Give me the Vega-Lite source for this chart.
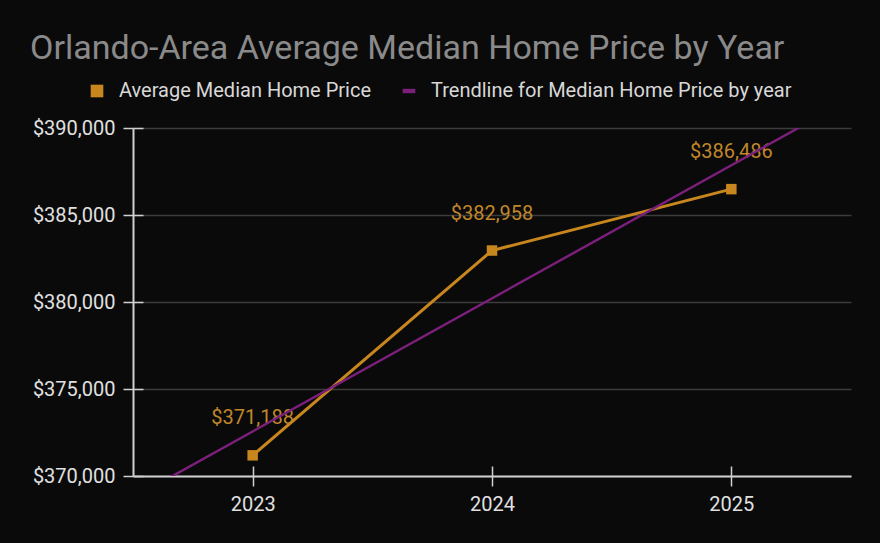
{
  "$schema": "https://vega.github.io/schema/vega-lite/v6.json",
  "width": 718,
  "height": 348,
  "autosize": {"type": "none"},
  "padding": {"left": 133, "top": 128, "right": 29, "bottom": 67},
  "background": "#0a0a0a",
  "title": {
    "text": "Orlando-Area Average Median Home Price by Year",
    "anchor": "start",
    "frame": "group",
    "dx": -103,
    "dy": 25,
    "fontSize": 34,
    "font": "Roboto",
    "fontWeight": "normal",
    "color": "#8a8a8a",
    "offset": 40
  },
  "config": {
    "view": {"stroke": null},
    "font": "Roboto"
  },
  "data": {
    "values": [
      {"year": 2023, "price": 371188, "series": "Average Median Home Price"},
      {"year": 2024, "price": 382958, "series": "Average Median Home Price"},
      {"year": 2025, "price": 386486, "series": "Average Median Home Price"}
    ]
  },
  "resolve": {"axis": {"x": "independent", "y": "independent"}},
  "layer": [
    {
      "mark": {"type": "line", "strokeWidth": 3},
      "encoding": {
        "x": {
          "field": "year", "type": "quantitative",
          "scale": {"domain": [2022.5, 2025.5], "nice": false, "zero": false},
          "axis": {
            "orient": "bottom",
            "title": null, "values": [2023, 2024, 2025], "format": "d",
            "grid": false, "domainColor": "#d0d0d0", "domainWidth": 2,
            "tickColor": "#d0d0d0", "tickWidth": 1.5, "tickSize": 10,
            "labelColor": "#e0e0e0", "labelFontSize": 20, "labelPadding": 8
          }
        },
        "y": {
          "field": "price", "type": "quantitative",
          "scale": {"domain": [370000, 390000], "nice": false, "zero": false},
          "axis": {
            "orient": "left",
            "title": null, "values": [370000, 375000, 380000, 385000, 390000],
            "format": "$,.0f", "grid": true, "gridColor": "#3c3c3c", "gridWidth": 1.5,
            "domainColor": "#d0d0d0", "domainWidth": 2,
            "tickColor": "#d0d0d0", "tickWidth": 1.5, "tickSize": 10,
            "labelColor": "#e0e0e0", "labelFontSize": 20, "labelPadding": 8
          }
        },
        "color": {
          "field": "series", "type": "nominal",
          "scale": {
            "domain": ["Average Median Home Price", "Trendline for Median Home Price by year"],
            "range": ["#c8861e", "#7a1f7a"]
          },
          "legend": {
            "title": null, "orient": "none", "direction": "horizontal",
            "legendX": -46, "legendY": -47,
            "labelColor": "#d8d8d8", "labelFontSize": 20, "labelLimit": 500,
            "symbolSize": 160, "symbolStrokeWidth": 0, "columnPadding": 28, "labelOffset": 12,
            "encode": {
              "symbols": {
                "update": {
                  "shape": {"signal": "datum.value === 'Average Median Home Price' ? 'square' : 'M-1,-0.35H1V0.35H-1Z'"},
                  "fillOpacity": {"value": 1},
                  "strokeWidth": {"value": 0}
                }
              }
            }
          }
        }
      }
    },
    {
      "mark": {"type": "point", "shape": "square", "filled": true, "size": 110, "opacity": 1},
      "encoding": {
        "x": {
          "field": "year", "type": "quantitative",
          "axis": {
            "orient": "bottom",
            "offset": -10, "labels": false, "domain": false, "grid": false, "title": null,
            "values": [2023, 2024, 2025], "tickColor": "#d0d0d0", "tickWidth": 1.5, "tickSize": 10
          }
        },
        "y": {
          "field": "price", "type": "quantitative",
          "axis": {
            "orient": "left",
            "offset": -10, "labels": false, "domain": false, "grid": false, "title": null,
            "values": [370000, 375000, 380000, 385000, 390000],
            "tickColor": "#d0d0d0", "tickWidth": 1.5, "tickSize": 10
          }
        },
        "color": {"field": "series", "type": "nominal"}
      }
    },
    {
      "mark": {"type": "text", "dy": -37, "fontSize": 20, "color": "#c0862a"},
      "encoding": {
        "x": {"field": "year", "type": "quantitative", "axis": null},
        "y": {"field": "price", "type": "quantitative", "axis": null},
        "text": {"field": "price", "type": "quantitative", "format": "$,.0f"}
      }
    },
    {
      "transform": [
        {"regression": "price", "on": "year", "extent": [2022.5, 2025.5]},
        {"calculate": "'Trendline for Median Home Price by year'", "as": "series"}
      ],
      "mark": {"type": "line", "strokeWidth": 2.5, "clip": true},
      "encoding": {
        "x": {"field": "year", "type": "quantitative", "axis": null},
        "y": {"field": "price", "type": "quantitative", "axis": null},
        "color": {"field": "series", "type": "nominal"}
      }
    }
  ]
}
